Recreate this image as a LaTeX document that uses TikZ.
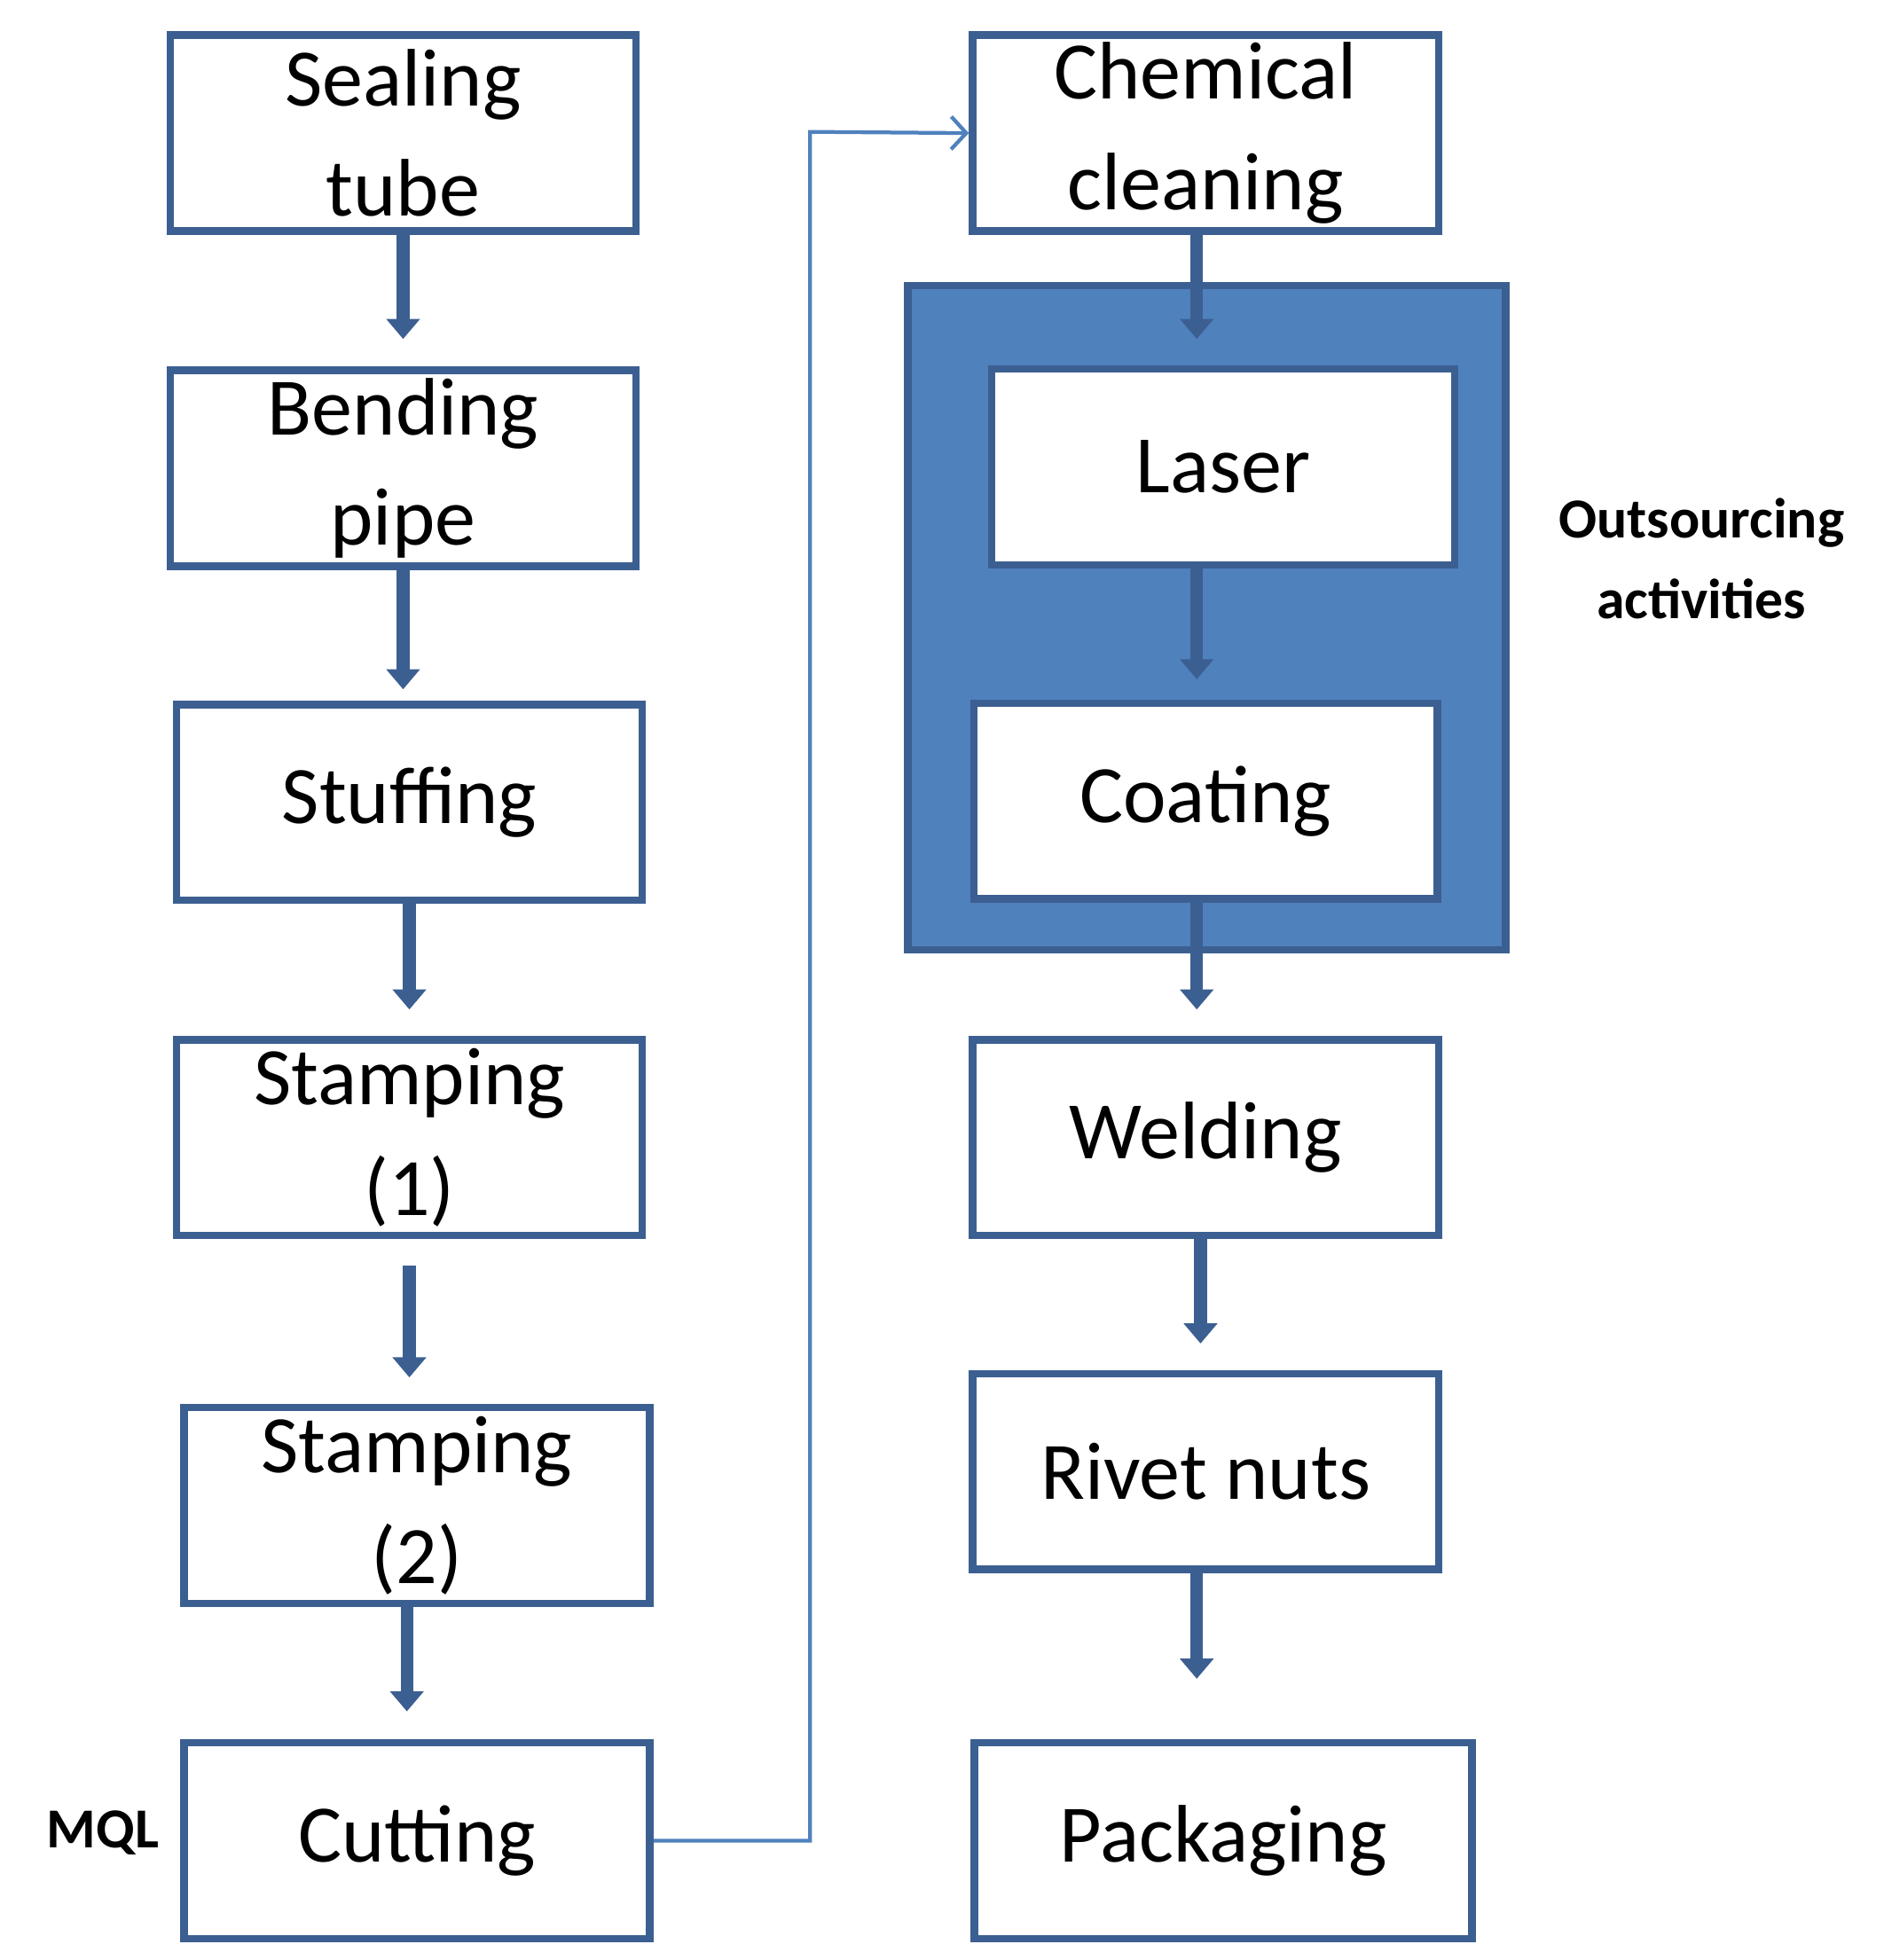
\documentclass[tikz,border=0pt]{standalone}
\usepackage{fontspec}
\setmainfont{Carlito}
\usetikzlibrary{arrows.meta}
\definecolor{bord}{HTML}{3C5F91}
\definecolor{fillb}{HTML}{4F81BD}
\begin{document}
\begin{tikzpicture}[x=1pt,y=-1pt,
 box/.style={draw=bord,line width=6pt,fill=white,minimum width=#1,minimum height=156pt,inner sep=0pt,align=center,font=\fontsize{65}{88}\selectfont},
 box/.default=371pt,
 flow/.style={draw=bord,line width=10pt,-{Triangle[width=26pt,length=16pt]}},
 lab/.style={font=\fontsize{45}{64}\selectfont\bfseries,align=center}]
\useasboundingbox (0,0) rectangle (1500,1561);
\node[draw=bord,line width=6pt,fill=fillb,minimum width=476pt,minimum height=529pt] (out) at (961,492) {};
\node[box] (a) at (321,106) {Sealing\\tube};
\node[box] (b) at (321,373) {Bending\\pipe};
\node[box] (c) at (326,639) {Stuffing};
\node[box] (d) at (326,906) {Stamping\\(1)};
\node[box] (e) at (332,1199) {Stamping\\(2)};
\node[box] (f) at (332,1466) {Cutting};
\node[box] (g) at (960,106) {Chemical\\cleaning};
\node[box=369pt] (h) at (974,372) {Laser};
\node[box=369pt] (i) at (960,638) {Coating};
\node[box] (j) at (960,906) {Welding};
\node[box] (k) at (960,1172) {Rivet nuts};
\node[box=396pt] (l) at (974,1466) {Packaging};
\node[lab] (ol) at (1355,445) {Outsourcing\\activities};
\node[lab] (mql) at (82,1460) {MQL};
\draw[flow] (a.south) -- ++(0,83);
\draw[flow] (b.south) -- ++(0,95);
\draw[flow] (c.south) -- ++(0,84);
\draw[flow] (d.south) ++(0,21) -- ++(0,89);
\draw[flow] (e.south) ++(-8,0) -- ++(0,83);
\draw[flow] (g.south) ++(-7,0) -- ++(0,83);
\draw[flow] (h.south) ++(-21,0) -- ++(0,88);
\draw[flow] (i.south) ++(-7,0) -- ++(0,85);
\draw[flow] (j.south) ++(-4,0) -- ++(0,83);
\draw[flow] (k.south) ++(-7,0) -- ++(0,84);
\draw[draw=fillb,line width=3pt,-{Straight Barb[width=26pt,length=12pt]}] (f.east) -| (645,105) -- (g.west);
\end{tikzpicture}
\end{document}
